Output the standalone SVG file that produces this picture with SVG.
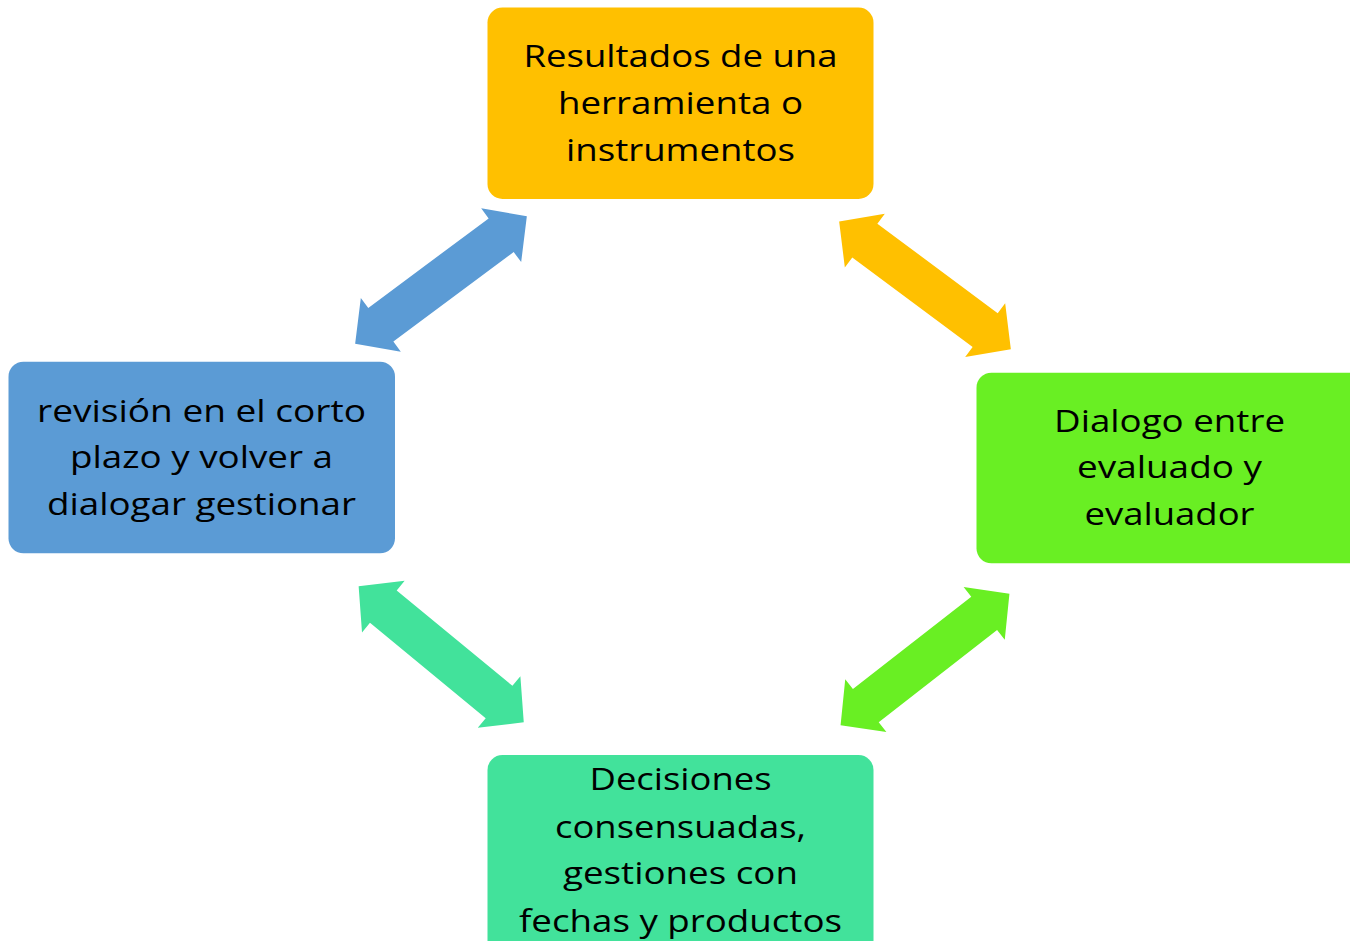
<svg xmlns="http://www.w3.org/2000/svg" xmlns:xlink="http://www.w3.org/1999/xlink" width="1350" height="941" viewBox="0 0 1350 941">
<style>
  .lbl { font-family: "Open Sans", "Noto Sans", "Liberation Sans", sans-serif; font-size: 30.5px; fill: #000; text-anchor: middle; }
</style>
<defs>
  <path id="dbl" d="M -107 0 L -75 -33.5 L -75 -21 L 75 -21 L 75 -33.5 L 107 0 L 75 33.5 L 75 21 L -75 21 L -75 33.5 Z"/>
</defs>
<rect width="1350" height="941" fill="#ffffff"/>
<g id="connectors">
  <use xlink:href="#dbl" fill="#5B9BD5" transform="translate(441,280) rotate(-36.65)"/>
  <use xlink:href="#dbl" fill="#FFC000" transform="translate(925,285.3) rotate(36.65)"/>
  <use xlink:href="#dbl" fill="#42E29B" transform="translate(441.2,654.3) rotate(39.5)"/>
  <use xlink:href="#dbl" fill="#69EF23" transform="translate(925,659.5) rotate(-37.9)"/>
</g>
<g id="node-top">
  <rect x="487.5" y="7.5" width="386" height="191.5" rx="15" fill="#FFC000"/>
  <text class="lbl" x="680.5" y="66.7" textLength="314" lengthAdjust="spacingAndGlyphs">Resultados de una</text>
  <text class="lbl" x="680.5" y="114.3" textLength="245" lengthAdjust="spacingAndGlyphs">herramienta o</text>
  <text class="lbl" x="680.5" y="161" textLength="229" lengthAdjust="spacingAndGlyphs">instrumentos</text>
</g>
<g id="node-right">
  <rect x="976.5" y="372.7" width="400" height="190.6" rx="15" fill="#69EF23"/>
  <text class="lbl" x="1169.5" y="431.7" textLength="231" lengthAdjust="spacingAndGlyphs">Dialogo entre</text>
  <text class="lbl" x="1169.5" y="478.3" textLength="185" lengthAdjust="spacingAndGlyphs">evaluado y</text>
  <text class="lbl" x="1169.5" y="525" textLength="170" lengthAdjust="spacingAndGlyphs">evaluador</text>
</g>
<g id="node-left">
  <rect x="8.5" y="361.7" width="386.5" height="191.6" rx="15" fill="#5B9BD5"/>
  <text class="lbl" x="201.5" y="421.7" textLength="329" lengthAdjust="spacingAndGlyphs">revisión en el corto</text>
  <text class="lbl" x="201.5" y="468.3" textLength="263" lengthAdjust="spacingAndGlyphs">plazo y volver a</text>
  <text class="lbl" x="201.5" y="515" textLength="309" lengthAdjust="spacingAndGlyphs">dialogar gestionar</text>
</g>
<g id="node-bottom">
  <rect x="487.5" y="755" width="386" height="200" rx="15" fill="#42E29B"/>
  <text class="lbl" x="680.5" y="790" textLength="182" lengthAdjust="spacingAndGlyphs">Decisiones</text>
  <text class="lbl" x="680.5" y="837.7" textLength="251" lengthAdjust="spacingAndGlyphs">consensuadas,</text>
  <text class="lbl" x="680.5" y="884.3" textLength="235" lengthAdjust="spacingAndGlyphs">gestiones con</text>
  <text class="lbl" x="680.5" y="931.7" textLength="323" lengthAdjust="spacingAndGlyphs">fechas y productos</text>
</g>
</svg>
